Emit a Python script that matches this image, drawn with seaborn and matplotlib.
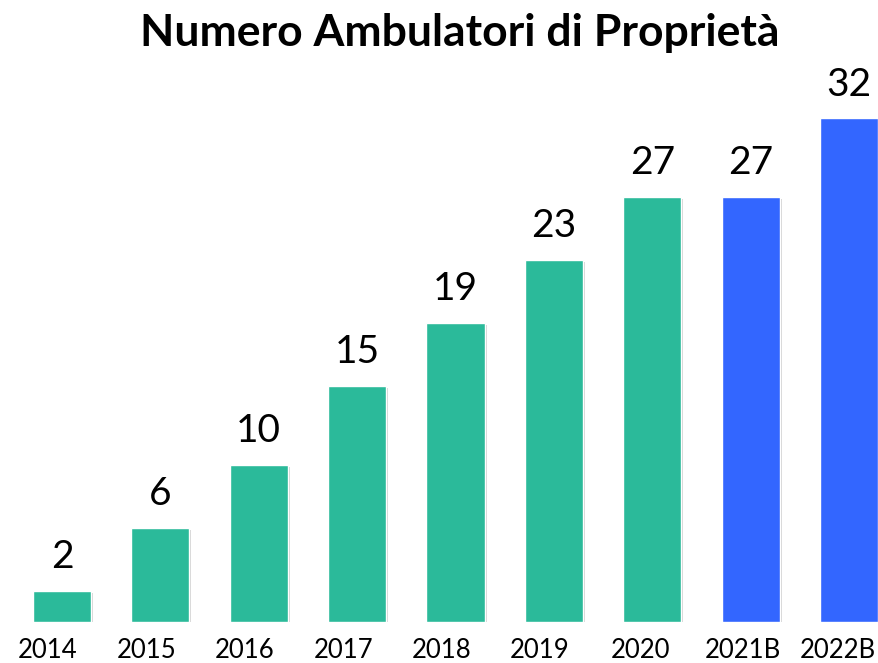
import matplotlib
matplotlib.use("Agg")
import matplotlib.pyplot as plt
import matplotlib.patheffects as pe
import matplotlib.transforms as mtransforms
import seaborn as sns
import pandas as pd

# data
anni = ["2014", "2015", "2016", "2017", "2018", "2019", "2020", "2021B", "2022B"]
ambulatori = [2, 6, 10, 15, 19, 23, 27, 27, 32]
tipo = ["Consuntivo"] * 7 + ["Budget"] * 2

df = pd.DataFrame({"Anno": anni, "Ambulatori": ambulatori, "Tipo": tipo})

sns.set_theme(style="white")
plt.rcParams["font.family"] = ["Lato", "DejaVu Sans"]

fig = plt.figure(figsize=(8.79, 6.63), dpi=100)
ax = fig.add_axes([0, 41 / 663, 1, 1 - 41 / 663])

palette = {"Consuntivo": "#2BBA9A", "Budget": "#3366FF"}
sns.barplot(data=df, x="Anno", y="Ambulatori", hue="Tipo", palette=palette,
            dodge=False, width=0.59, legend=False, ax=ax, saturation=1)

# light shadow under the bars like the original
for p in ax.patches:
    p.set_path_effects([pe.SimplePatchShadow(offset=(1.5, -1.5), alpha=0.18, shadow_rgbFace="black"),
                        pe.Normal()])

for i, v in enumerate(ambulatori):
    ax.annotate(str(v), (i, v), xytext=(0, 11), textcoords="offset points",
                ha="center", va="bottom", fontsize=28, color="black")

ax.set_xlim(-62 / 98.4, 8 + 30 / 98.4)
ax.set_ylim(0, 622 / 15.75)
ax.set_xlabel("")
ax.set_ylabel("")
ax.set_yticks([])
ax.tick_params(axis="x", length=0, labelsize=18.5, pad=11.5, colors="black")
sns.despine(ax=ax, left=True, bottom=True)

# year labels sit a bit left of the bars in the original
shifts = [-14, -14, -14, -14, -14, -14, -12, -8, -11]
for lab, s in zip(ax.get_xticklabels(), shifts):
    lab.set_transform(lab.get_transform() + mtransforms.ScaledTranslation(s / 100, 0, fig.dpi_scale_trans))

fig.text(0.523, 1 - 33 / 663, "Numero Ambulatori di Proprietà", ha="center", va="center",
         fontsize=32, fontweight="bold", color="black")

fig.savefig("out.png", dpi=100)
